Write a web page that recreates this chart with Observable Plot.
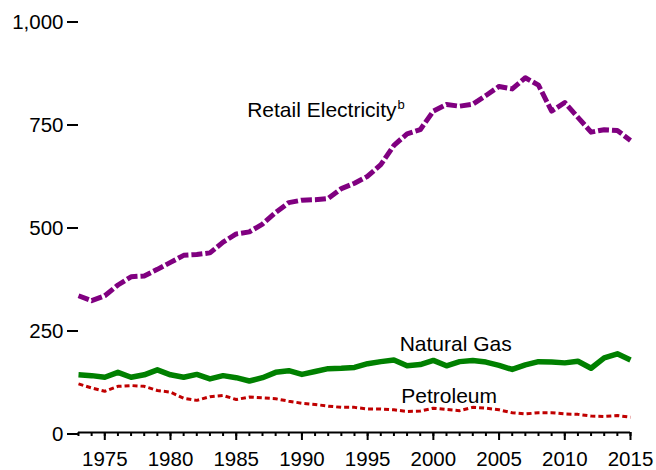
<!DOCTYPE html>
<html><head><meta charset="utf-8">
<script src="https://cdn.jsdelivr.net/npm/d3@7"></script>
<script src="https://cdn.jsdelivr.net/npm/@observablehq/plot@0.6"></script>
<style>
html,body{margin:0;padding:0;background:#fff;}
svg{display:block;}
</style>
</head><body><div id="chart"></div>
<script>
const years = [1973,1974,1975,1976,1977,1978,1979,1980,1981,1982,1983,1984,1985,1986,1987,1988,1989,1990,1991,1992,1993,1994,1995,1996,1997,1998,1999,2000,2001,2002,2003,2004,2005,2006,2007,2008,2009,2010,2011,2012,2013,2014,2015];
const electricity = [332,320,332,358,378,380,396,413,430,432,436,462,482,487,506,534,558,564,565,568,592,605,622,650,697,725,735,780,796,792,797,818,840,834,861,843,780,801,765,729,735,733,709];
const naturalGas = [140,138,134,146,134,140,152,140,134,141,130,138,133,125,133,146,150,141,148,155,156,158,167,172,176,162,165,175,162,172,175,171,163,153,164,172,171,169,173,156,181,191,176];
const petroleum = [118,108,100,112,114,112,102,98,83,78,87,90,80,86,84,82,76,71,68,64,61,61,57,57,55,51,52,59,56,53,61,59,55,48,45,48,48,45,44,40,39,41,37];
const yTicks = [0,250,500,750,1000];
const xMajorTicks = [1975,1980,1985,1990,1995,2000,2005,2010,2015];
const labelText = ["Retail Electricity","Natural Gas","Petroleum"];
const labelYear = [1997.2,2001.7,2001.2];
const labelValue = [782,215,87];
const supText = ["b"];
const supYear = [1997.2];
const supValue = [782];

const rows = years.map((yr,i)=>({year:yr, elec:electricity[i], gas:naturalGas[i], pet:petroleum[i]}));
const labels = labelText.map((t,i)=>({text:t, year:labelYear[i], value:labelValue[i]}));
const sups = supText.map((t,i)=>({text:t, year:supYear[i], value:supValue[i]}));

const chart = Plot.plot({
  width: 656, height: 470,
  marginLeft: 78, marginRight: 26, marginTop: 20, marginBottom: 38,
  style: {fontFamily: "Arial, 'Liberation Sans', sans-serif", fontSize: "20px", background: "#fff", color: "#000"},
  x: {domain: [1973, 2015]},
  y: {domain: [0, 1000]},
  marks: [
    Plot.axisY({ticks: yTicks, tickSize: 11, tickPadding: 4, tickFormat: d3.format(","), fontSize: 20.5, strokeWidth: 2, label: null, dy: 1.5}),
    Plot.axisX({ticks: years, tickSize: 4, tickFormat: () => "", strokeWidth: 2, label: null}),
    Plot.axisX({ticks: xMajorTicks, tickSize: 8, tickPadding: 11, tickFormat: d => String(d), fontSize: 20.5, strokeWidth: 2, label: null}),
    Plot.ruleY([0], {strokeWidth: 2, stroke: "#000"}),
    Plot.line(rows, {x: "year", y: "gas", stroke: "#008000", strokeWidth: 5.5, strokeLinecap: "butt"}),
    Plot.line(rows, {x: "year", y: "pet", stroke: "#c00000", strokeWidth: 3, strokeDasharray: "5,3", strokeLinecap: "butt"}),
    Plot.line(rows, {x: "year", y: "elec", stroke: "#800080", strokeWidth: 5, strokeDasharray: "11,3", strokeLinecap: "butt"}),
    Plot.text(labels.slice(0,1), {x: "year", y: "value", text: "text", textAnchor: "end", fontSize: 21, fill: "#000"}),
    Plot.text(labels.slice(1), {x: "year", y: "value", text: "text", textAnchor: "middle", fontSize: 21, fill: "#000"}),
    Plot.text(sups, {x: "year", y: "value", text: "text", textAnchor: "start", fontSize: 13, dx: 1, dy: -5, fill: "#000"})
  ]
});
document.getElementById("chart").appendChild(chart);
</script>
</body></html>
